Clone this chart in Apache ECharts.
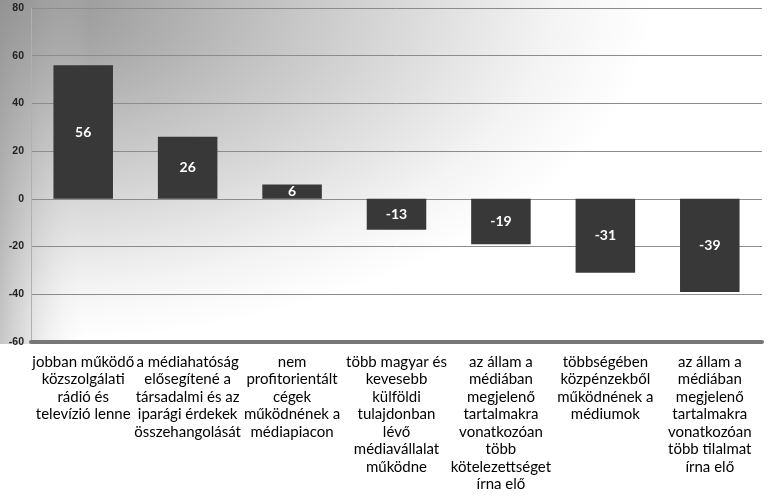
<!DOCTYPE html>
<html>
<head>
<meta charset="utf-8">
<script src="https://cdn.jsdelivr.net/npm/echarts@6/dist/echarts.min.js"></script>
<style>
  html, body { margin: 0; padding: 0; background: #fff; }
  #chart { width: 768px; height: 496px; }
</style>
</head>
<body>
<div id="chart"></div>
<script>
// kategóriák (sortörésekkel, ahogy a képen)
const categories = [
    'jobban működő\nközszolgálati\nrádió és\ntelevízió lenne',
    'a médiahatóság\nelősegítené a\ntársadalmi és az\niparági érdekek\nösszehangolását',
    'nem\nprofitorientált\ncégek\nműködnének a\nmédiapiacon',
    'több magyar és\nkevesebb\nkülföldi\ntulajdonban\nlévő\nmédiavállalat\nműködne',
    'az állam a\nmédiában\nmegjelenő\ntartalmakra\nvonatkozóan\ntöbb\nkötelezettséget\nírna elő',
    'többségében\nközpénzekből\nműködnének a\nmédiumok',
    'az állam a\nmédiában\nmegjelenő\ntartalmakra\nvonatkozóan\ntöbb tilalmat\nírna elő'
]

// értékek
const values = [56, 26, 6, -13, -19, -31, -39]

// y tengely
const yMin = -60
const yMax = 80
const yStep = 20

const chart = echarts.init(document.getElementById('chart'))

chart.setOption({
    animation: false,
    backgroundColor: '#ffffff',
    // szürke háttér színátmenet a bal felső sarokból
    graphic: [
        {
            type: 'rect',
            z: -10,
            silent: true,
            scaleX: 1.9,
            shape: { x: 0, y: 0, width: 401, height: 344 },
            style: {
                fill: {
                    type: 'radial', x: 0, y: 0, r: 1,
                    colorStops: [
                        { offset: 0, color: '#8e8e8e' },
                        { offset: 0.45, color: '#c6c6c6' },
                        { offset: 0.85, color: '#f4f4f4' },
                        { offset: 1, color: '#ffffff' }
                    ]
                }
            }
        },
        {
            type: 'rect',
            z: -9,
            silent: true,
            shape: { x: 0, y: 0, width: 90, height: 344 },
            style: {
                fill: {
                    type: 'linear', x: 0, y: 0, x2: 1, y2: 0,
                    colorStops: [
                        { offset: 0, color: 'rgba(150,150,150,0.55)' },
                        { offset: 0.35, color: 'rgba(170,170,170,0.3)' },
                        { offset: 1, color: 'rgba(255,255,255,0)' }
                    ]
                }
            }
        }
    ],
    grid: {
        left: 31,
        right: 6,
        top: 8,
        bottom: 154
    },
    xAxis: {
        type: 'category',
        data: categories,
        axisTick: { show: false },
        axisLine: {
            show: true,
            onZero: false,
            lineStyle: { color: '#777777', width: 4 }
        },
        axisLabel: {
            interval: 0,
            margin: 11,
            color: '#000000',
            fontFamily: 'Lato',
            fontSize: 15,
            lineHeight: 17.5
        }
    },
    yAxis: {
        type: 'value',
        min: yMin,
        max: yMax,
        interval: yStep,
        axisLine: {
            show: true,
            lineStyle: { color: '#b0b0b0', width: 1 }
        },
        axisTick: { show: false },
        splitLine: {
            show: true,
            lineStyle: { color: '#8c8c8c', width: 1 }
        },
        axisLabel: {
            margin: 7,
            color: '#222222',
            fontFamily: 'Liberation Sans',
            fontWeight: 'bold',
            fontSize: 10.5
        }
    },
    series: [{
        type: 'bar',
        data: values,
        barWidth: '57%',
        itemStyle: { color: '#383838' },
        label: {
            show: true,
            position: 'inside',
            color: '#ffffff',
            fontFamily: 'Lato',
            fontWeight: 'bold',
            fontSize: 14
        }
    }]
})
</script>
</body>
</html>
